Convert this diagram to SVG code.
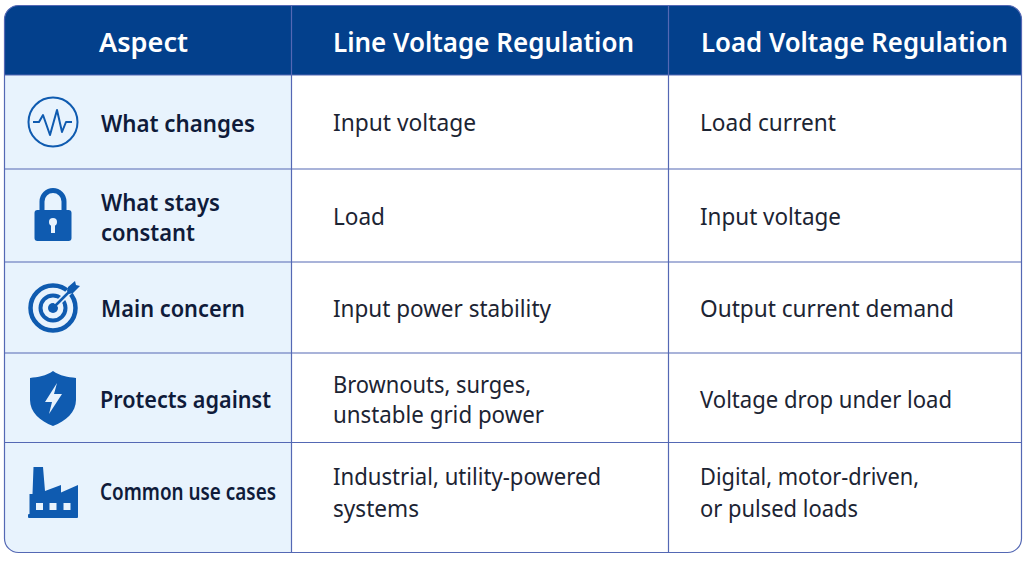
<svg xmlns="http://www.w3.org/2000/svg" width="1024" height="564" viewBox="0 0 1024 564">
<defs>
<style>
text{font-family:"Noto Sans","Open Sans","Liberation Sans",sans-serif}
.h{fill:#fff;font-size:26.500px;font-weight:600}
.a{fill:#0f1b3a;font-size:24px;font-weight:600}
.c{fill:#1c2433;font-size:23.500px;font-weight:400}
.g{stroke:#5468b4;stroke-width:1.2;fill:none}
.i{fill:#0f5bb0}
.s{fill:none;stroke:#0f5bb0}
.k{fill:#e8f3fd}
</style>
<clipPath id="tc"><rect x="4.500" y="5.500" width="1017" height="547" rx="14"/></clipPath>
</defs>
<rect width="1024" height="564" fill="#fff"/>
<g id="table" clip-path="url(#tc)">
<rect x="4" y="5" width="288" height="548" fill="#e8f3fd"/>
<rect x="4" y="5" width="1018" height="70" fill="#03408c"/>
</g>
<g id="grid" class="g">
<rect x="4.500" y="5.500" width="1017" height="547" rx="14"/>
<path d="M4.500 75H1021.500M4.500 169H1021.500M4.500 262H1021.500M4.500 353H1021.500M4.500 442.500H1021.500M291.500 5.500V552.500M668.500 5.500V552.500"/>
</g>
<g id="header">
<text class="h" x="99" y="51.500" textLength="89" lengthAdjust="spacingAndGlyphs">Aspect</text>
<text class="h" x="333" y="51.500" textLength="301" lengthAdjust="spacingAndGlyphs">Line Voltage Regulation</text>
<text class="h" x="701" y="51.500" textLength="307" lengthAdjust="spacingAndGlyphs">Load Voltage Regulation</text>
</g>
<g id="row-what-changes">
<circle class="s" cx="53" cy="122" r="24.500" stroke-width="2"/>
<path class="s" stroke-width="2" stroke-linejoin="round" d="M33 122H39L43 115L50 135L57 110L62 132L66 122H72"/>
<text class="a" x="101" y="132" textLength="154" lengthAdjust="spacingAndGlyphs">What changes</text>
<text class="c" x="333" y="131" textLength="143" lengthAdjust="spacingAndGlyphs">Input voltage</text>
<text class="c" x="700" y="131" textLength="136" lengthAdjust="spacingAndGlyphs">Load current</text>
</g>
<g id="row-what-stays">
<path class="s" stroke-width="5" d="M42 212V201.500A11 11 0 0 1 64 201.500V212"/>
<rect class="i" x="34.500" y="210" width="37" height="31" rx="3"/>
<circle class="k" cx="53" cy="222" r="4"/>
<rect class="k" x="51" y="223" width="4" height="10"/>
<text class="a" x="101" y="211" textLength="119" lengthAdjust="spacingAndGlyphs">What stays</text>
<text class="a" x="101" y="241" textLength="94" lengthAdjust="spacingAndGlyphs">constant</text>
<text class="c" x="333" y="225" textLength="52" lengthAdjust="spacingAndGlyphs">Load</text>
<text class="c" x="700" y="225" textLength="141" lengthAdjust="spacingAndGlyphs">Input voltage</text>
</g>
<g id="row-main-concern">
<circle class="s" cx="53" cy="308" r="22.500" stroke-width="4.500"/>
<circle class="s" cx="53" cy="308" r="12.500" stroke-width="4"/>
<circle class="i" cx="53" cy="308" r="5"/>
<path d="M56 305L72 289" stroke="#e8f3fd" stroke-width="6"/>
<path d="M53 308L71 290" stroke="#0f5bb0" stroke-width="2.500"/>
<path class="i" d="M67 291L68 287L75 281L76 285L80 286L73 293L69 294Z"/>
<text class="a" x="101" y="317" textLength="144" lengthAdjust="spacingAndGlyphs">Main concern</text>
<text class="c" x="333" y="317" textLength="218" lengthAdjust="spacingAndGlyphs">Input power stability</text>
<text class="c" x="700" y="317" textLength="254" lengthAdjust="spacingAndGlyphs">Output current demand</text>
</g>
<g id="row-protects">
<path class="i" d="M53 371C60 376 68 377 76 378V400C76 412 66 421 53 426C40 421 30 412 30 400V378C38 377 46 376 53 371Z"/>
<path class="k" d="M57 383L45 402H52L49 414L62 394H54Z"/>
<text class="a" x="100" y="408" textLength="171" lengthAdjust="spacingAndGlyphs">Protects against</text>
<text class="c" x="333" y="393" textLength="198" lengthAdjust="spacingAndGlyphs">Brownouts, surges,</text>
<text class="c" x="333" y="423" textLength="211" lengthAdjust="spacingAndGlyphs">unstable grid power</text>
<text class="c" x="700" y="408" textLength="252" lengthAdjust="spacingAndGlyphs">Voltage drop under load</text>
</g>
<g id="row-use-cases">
<path class="i" d="M33.500 467H43L45 491L61 485V492.500L78 485V515H29.500V494H32.500Z"/>
<rect class="i" x="28" y="514" width="50" height="4" rx="1"/>
<rect class="k" x="36" y="503" width="7" height="7"/>
<rect class="k" x="49.500" y="503" width="7" height="7"/>
<rect class="k" x="63.500" y="503" width="7" height="7"/>
<text class="a" x="100" y="500" textLength="176" lengthAdjust="spacingAndGlyphs">Common use cases</text>
<text class="c" x="333" y="485" textLength="268" lengthAdjust="spacingAndGlyphs">Industrial, utility-powered</text>
<text class="c" x="333" y="517" textLength="86" lengthAdjust="spacingAndGlyphs">systems</text>
<text class="c" x="700" y="485" textLength="219" lengthAdjust="spacingAndGlyphs">Digital, motor-driven,</text>
<text class="c" x="700" y="517" textLength="158" lengthAdjust="spacingAndGlyphs">or pulsed loads</text>
</g>
</svg>
